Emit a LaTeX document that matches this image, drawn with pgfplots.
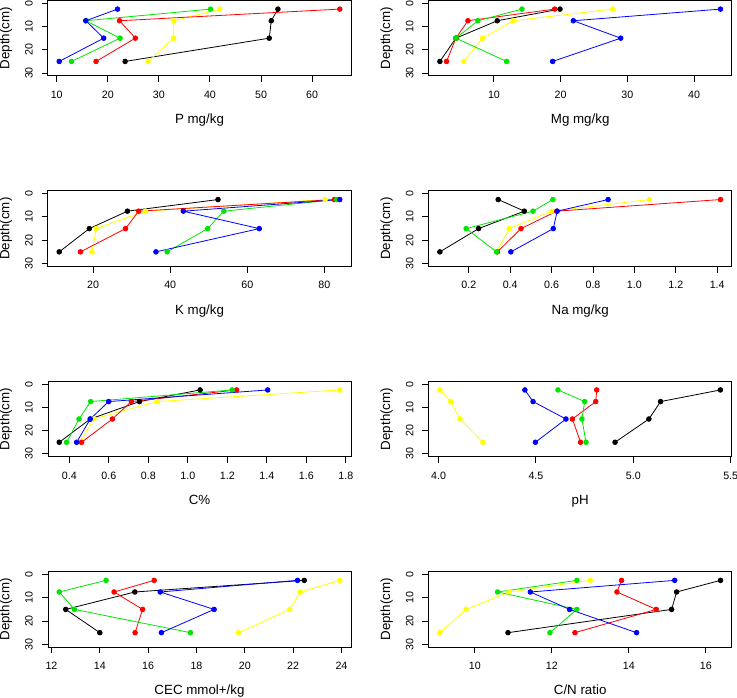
\documentclass[border=0pt]{standalone}
\usepackage{fontspec}
\setmainfont{Liberation Sans}
\usepackage{pgfplots}
\pgfplotsset{compat=1.18}
\definecolor{Rred}{RGB}{255,0,0}
\definecolor{Rgreen}{RGB}{0,230,0}
\definecolor{Rblue}{RGB}{0,0,255}
\definecolor{Ryellow}{RGB}{255,255,0}
\pgfplotsset{
  rpanel/.style={
    scale only axis, width=227.25pt, height=56.5pt,
    y dir=reverse, ymin=-1.2, ymax=31.2, ytick={0,10,20,30},
    ylabel={Depth(cm)},
    tick align=outside, xtick pos=bottom, ytick pos=left,
    major tick length=4.8pt,
    axis line style={line width=0.75pt},
    every tick/.style={black, line width=0.75pt},
    tick label style={font=\fontsize{8}{9.6}\selectfont, inner sep=0pt},
    xticklabel style={anchor=north},
    yticklabel style={rotate=90, anchor=south},
    xticklabel shift=6.45pt,
    yticklabel shift=6.45pt,
    label style={font=\fontsize{8}{9.6}\selectfont, inner sep=0pt},
    every axis x label/.style={at={(axis description cs:0.5,-0.445)}, anchor=north},
    every axis y label/.style={at={(axis description cs:-0.1386,0.5)}, rotate=90, anchor=center},
    /pgf/number format/assume math mode=true,
    every axis plot/.append style={line width=0.6pt, mark=*, mark size=1.75pt, mark options={solid}},
    anchor=north west,
  },
  dec/.style={xticklabel style={/pgf/number format/.cd, fixed, fixed zerofill, precision=1}},
}
\begin{document}
\begin{tikzpicture}
\useasboundingbox (0,0) rectangle (552.75pt,-522.75pt);
% P
\begin{axis}[rpanel, at={(36pt,-0.375pt)}, xmin=8.30, xmax=67.60, xtick={10,20,30,40,50,60}, xlabel={P mg/kg}]
\addplot[black] coordinates {(53.3,2.5) (52.0,7.5) (51.6,15) (23.4,25)};
\addplot[Ryellow] coordinates {(41.9,2.5) (32.9,7.5) (32.9,15) (27.9,25)};
\addplot[Rred] coordinates {(65.4,2.5) (22.3,7.5) (25.4,15) (17.7,25)};
\addplot[Rgreen] coordinates {(40.1,2.5) (15.7,7.5) (22.4,15) (12.9,25)};
\addplot[Rblue] coordinates {(21.9,2.5) (15.7,7.5) (19.2,15) (10.5,25)};
\end{axis}
% Mg
\begin{axis}[rpanel, at={(321.5pt,-0.375pt)}, xmin=0.22, xmax=45.63, xtick={10,20,30,40}, xlabel={Mg mg/kg}]
\addplot[black] coordinates {(19.9,2.5) (10.5,7.5) (4.3,15) (1.9,25)};
\addplot[Ryellow] coordinates {(27.8,2.5) (12.9,7.5) (8.3,15) (5.5,25)};
\addplot[Rred] coordinates {(19.1,2.5) (6.1,7.5) (4.3,15) (2.9,25)};
\addplot[Rgreen] coordinates {(14.2,2.5) (7.6,7.5) (4.3,15) (11.9,25)};
\addplot[Rblue] coordinates {(43.95,2.5) (21.9,7.5) (29.0,15) (18.8,25)};
\end{axis}
% K
\begin{axis}[rpanel, at={(36pt,-143.2pt)}, xmin=8.29, xmax=86.91, xtick={20,40,60,80}, xlabel={K mg/kg}]
\addplot[black] coordinates {(52.4,2.5) (28.9,7.5) (19.0,15) (11.2,25)};
\addplot[Ryellow] coordinates {(80.2,2.5) (33.6,7.5) (20.8,15) (19.7,25)};
\addplot[Rred] coordinates {(82.6,2.5) (31.8,7.5) (28.4,15) (16.7,25)};
\addplot[Rgreen] coordinates {(83.2,2.5) (53.9,7.5) (49.7,15) (39.2,25)};
\addplot[Rblue] coordinates {(84.0,2.5) (43.4,7.5) (63.1,15) (36.3,25)};
\end{axis}
% Na
\begin{axis}[rpanel, dec, at={(321.5pt,-143.2pt)}, xmin=0.006, xmax=1.470, xtick={0.2,0.4,0.6,0.8,1.0,1.2,1.4}, xlabel={Na mg/kg}]
\addplot[black] coordinates {(0.342,2.5) (0.468,7.5) (0.247,15) (0.060,25)};
\addplot[Ryellow] coordinates {(1.072,2.5) (0.600,7.5) (0.395,15) (0.335,25)};
\addplot[Rred] coordinates {(1.416,2.5) (0.625,7.5) (0.452,15) (0.338,25)};
\addplot[Rgreen] coordinates {(0.606,2.5) (0.510,7.5) (0.187,15) (0.334,25)};
\addplot[Rblue] coordinates {(0.873,2.5) (0.627,7.5) (0.608,15) (0.403,25)};
\end{axis}
% C
\begin{axis}[rpanel, dec, at={(36pt,-286.0pt)}, xmin=0.292, xmax=1.826, xtick={0.4,0.6,0.8,1.0,1.2,1.4,1.6,1.8}, xlabel={C\%}]
\addplot[black] coordinates {(1.062,2.5) (0.755,7.5) (0.506,15) (0.349,25)};
\addplot[Ryellow] coordinates {(1.769,2.5) (0.844,7.5) (0.523,15) (0.454,25)};
\addplot[Rred] coordinates {(1.247,2.5) (0.714,7.5) (0.618,15) (0.462,25)};
\addplot[Rgreen] coordinates {(1.224,2.5) (0.508,7.5) (0.449,15) (0.386,25)};
\addplot[Rblue] coordinates {(1.404,2.5) (0.599,7.5) (0.506,15) (0.437,25)};
\end{axis}
% pH
\begin{axis}[rpanel, dec, at={(321.5pt,-286.0pt)}, xmin=3.949, xmax=5.505, xtick={4.0,4.5,5.0,5.5}, xlabel={pH}]
\addplot[black] coordinates {(5.447,2.5) (5.140,7.5) (5.080,15) (4.906,25)};
\addplot[Ryellow] coordinates {(4.007,2.5) (4.062,7.5) (4.110,15) (4.228,25)};
\addplot[Rred] coordinates {(4.812,2.5) (4.807,7.5) (4.687,15) (4.729,25)};
\addplot[Rgreen] coordinates {(4.613,2.5) (4.750,7.5) (4.736,15) (4.757,25)};
\addplot[Rblue] coordinates {(4.443,2.5) (4.485,7.5) (4.654,15) (4.497,25)};
\end{axis}
% CEC
\begin{axis}[rpanel, at={(36pt,-428.8pt)}, xmin=11.856, xmax=24.394, xtick={12,14,16,18,20,22,24}, xlabel={CEC mmol+/kg}]
\addplot[black] coordinates {(22.46,2.5) (15.45,7.5) (12.59,15) (14.0,25)};
\addplot[Ryellow] coordinates {(23.93,2.5) (22.3,7.5) (21.86,15) (19.74,25)};
\addplot[Rred] coordinates {(16.25,2.5) (14.59,7.5) (15.77,15) (15.46,25)};
\addplot[Rgreen] coordinates {(14.26,2.5) (12.32,7.5) (12.95,15) (17.75,25)};
\addplot[Rblue] coordinates {(22.18,2.5) (16.5,7.5) (18.73,15) (16.55,25)};
\end{axis}
% C/N
\begin{axis}[rpanel, at={(321.5pt,-428.8pt)}, xmin=8.80, xmax=16.67, xtick={10,12,14,16}, xlabel={C/N ratio}]
\addplot[black] coordinates {(16.38,2.5) (15.24,7.5) (15.11,15) (10.86,25)};
\addplot[Ryellow] coordinates {(13.0,2.5) (10.89,7.5) (9.77,15) (9.09,25)};
\addplot[Rred] coordinates {(13.81,2.5) (13.69,7.5) (14.71,15) (12.6,25)};
\addplot[Rgreen] coordinates {(12.65,2.5) (10.59,7.5) (12.65,15) (11.95,25)};
\addplot[Rblue] coordinates {(15.19,2.5) (11.44,7.5) (12.46,15) (14.2,25)};
\end{axis}
\end{tikzpicture}
\end{document}
